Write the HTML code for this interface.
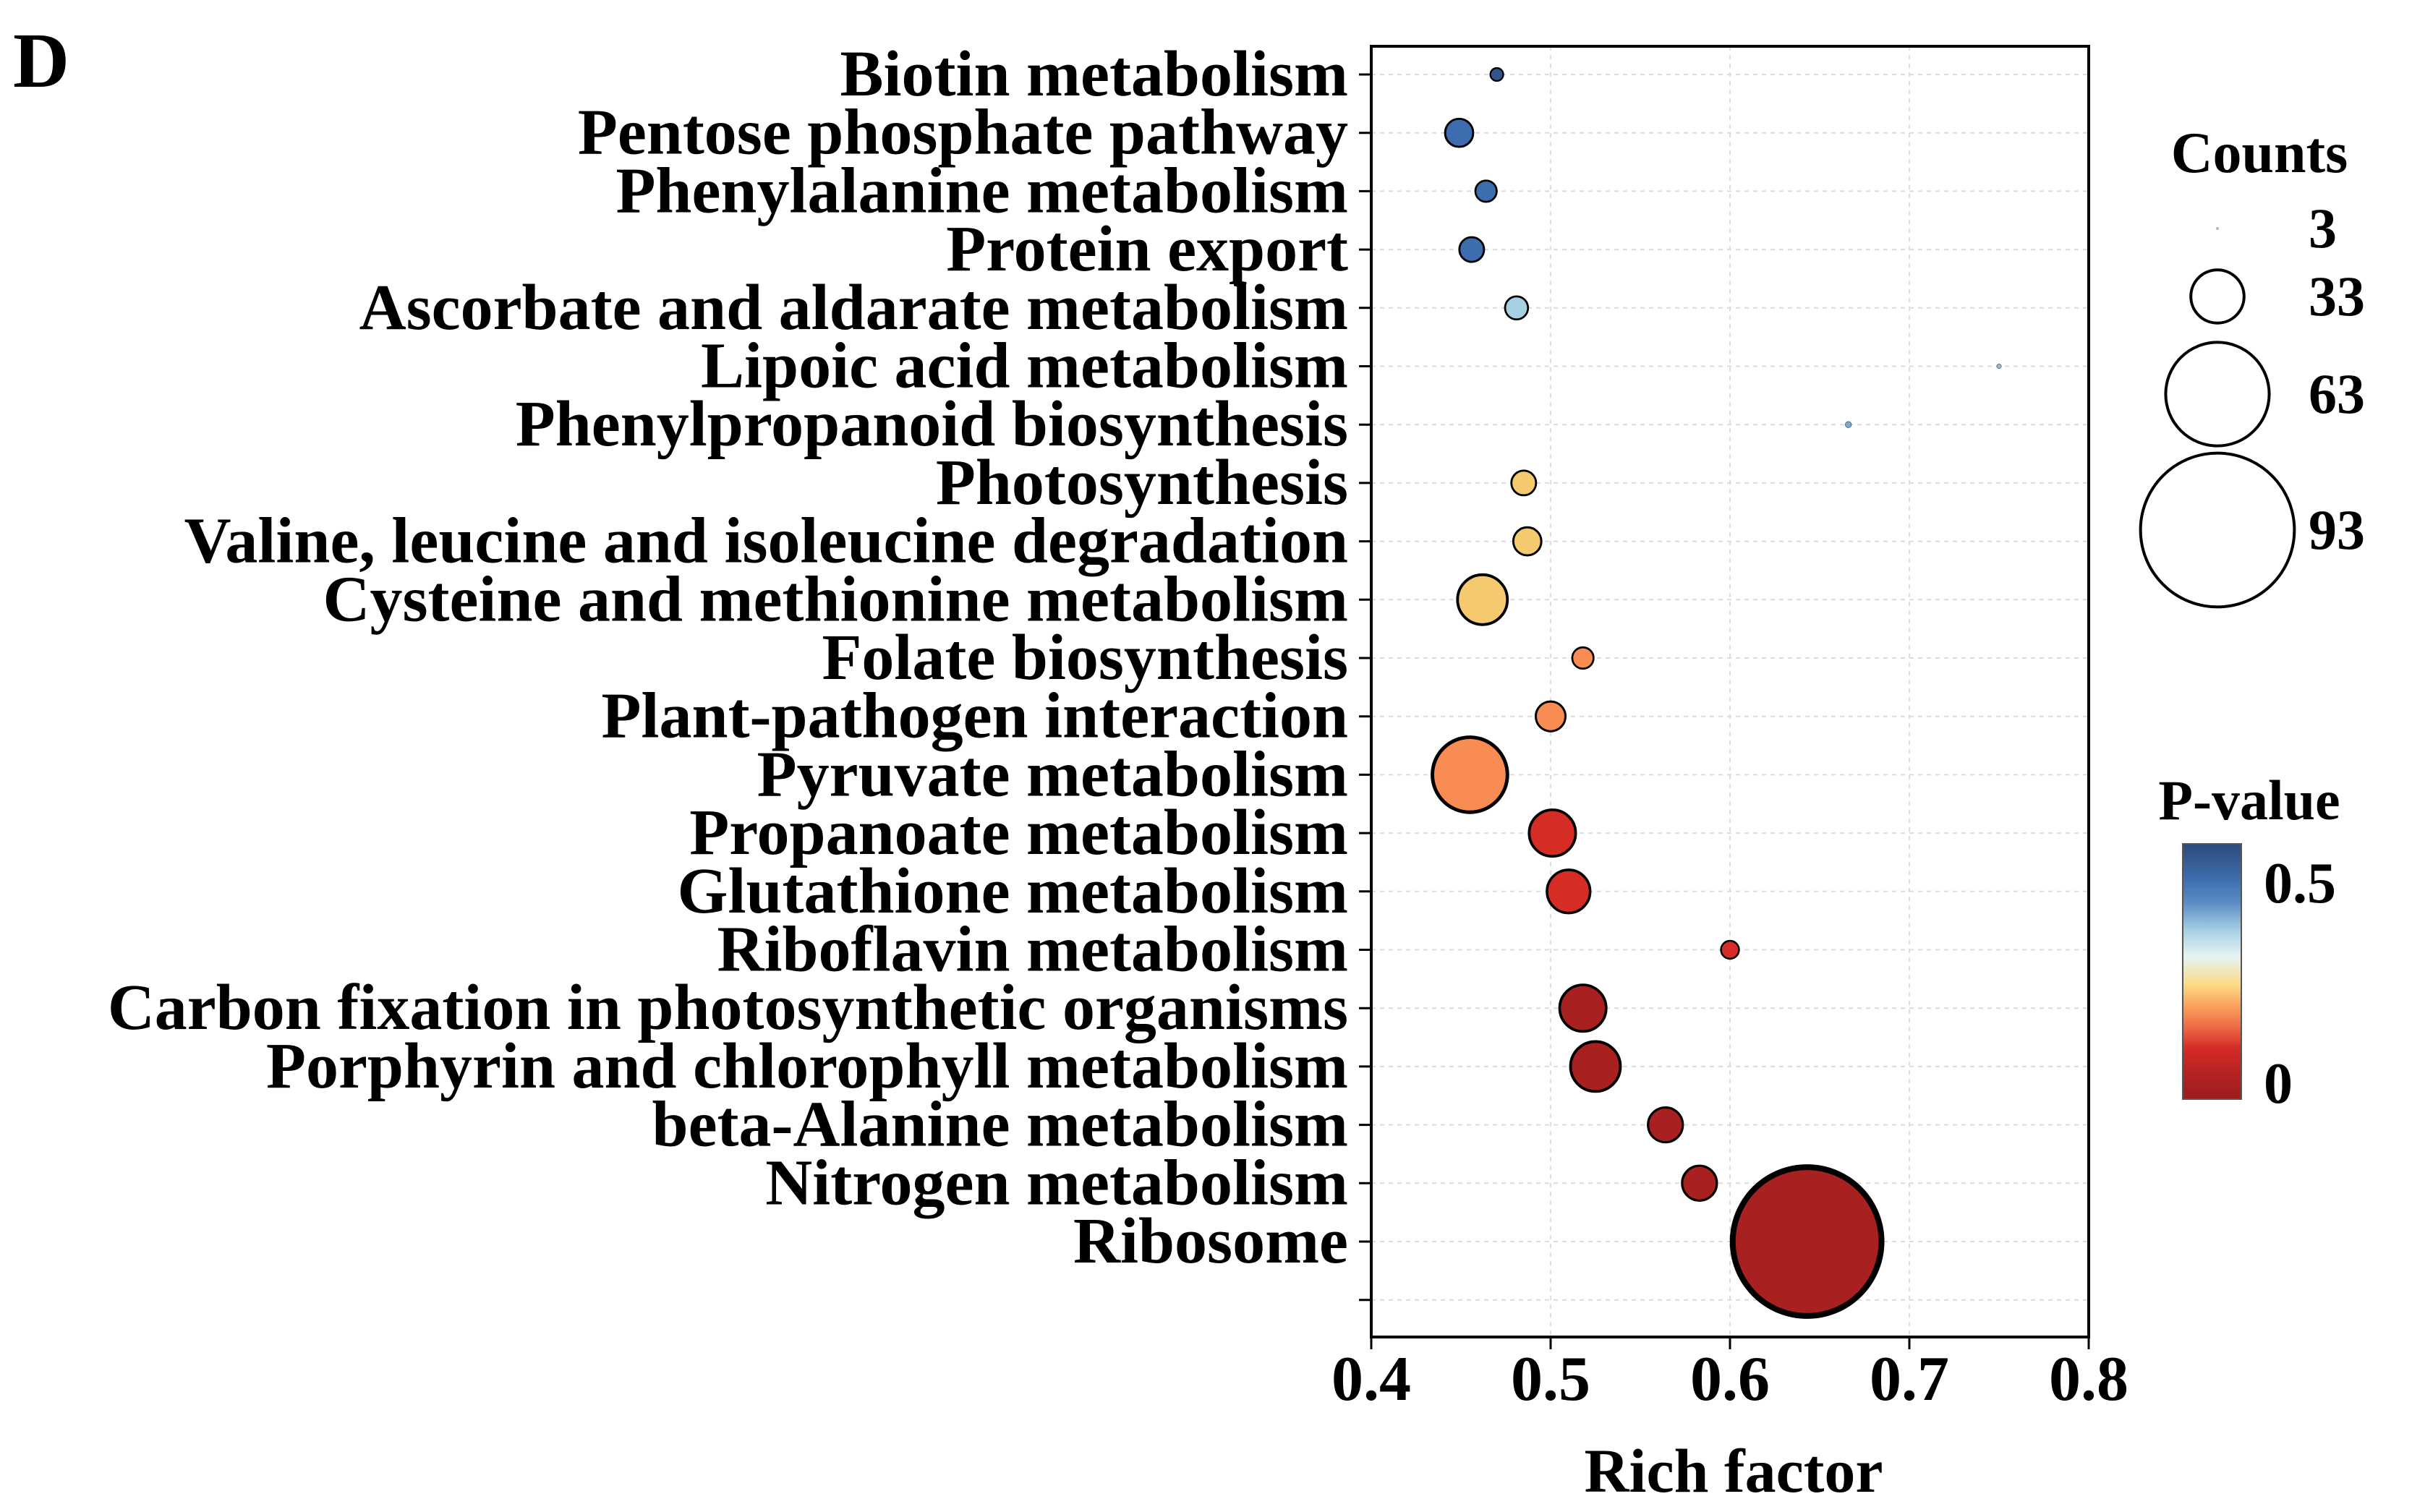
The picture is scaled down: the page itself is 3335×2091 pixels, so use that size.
<!DOCTYPE html>
<html><head><meta charset="utf-8"><style>
html,body{margin:0;padding:0;background:#fff}
svg{display:block}
text{font-family:"Liberation Serif",serif;font-weight:bold;fill:#000}
</style></head><body>
<svg id="chart" width="3335" height="2091" viewBox="0 0 3335 2091" xmlns="http://www.w3.org/2000/svg">
<defs>
<linearGradient id="cbar" x1="0" y1="1" x2="0" y2="0">
<stop offset="0" stop-color="#9b1d1d"/><stop offset="0.1" stop-color="#b52222"/><stop offset="0.2" stop-color="#d52c26"/><stop offset="0.29" stop-color="#ef7048"/><stop offset="0.37" stop-color="#fba45e"/><stop offset="0.45" stop-color="#fcdc88"/><stop offset="0.56" stop-color="#e4f3f3"/><stop offset="0.66" stop-color="#a7d0e4"/><stop offset="0.77" stop-color="#5b8cc4"/><stop offset="0.86" stop-color="#3e6daf"/><stop offset="1" stop-color="#2d4b7b"/>
</linearGradient>
</defs>
<text x="18" y="120" font-size="108">D</text>
<g id="grid"></g>
<g id="yaxis"></g>
<g id="xaxis"></g>
<g id="points"></g>
<rect x="1896" y="64" width="992" height="1785" fill="none" stroke="#000" stroke-width="4"/>
<text x="2397" y="2063" font-size="86" text-anchor="middle">Rich factor</text>
<g id="legend-size">
<text x="3124" y="238" font-size="80" text-anchor="middle">Counts</text>
</g>
<g id="legend-color">
<text x="3110" y="1133" font-size="78" text-anchor="middle">P-value</text>
<rect x="3018" y="1167" width="81" height="353" fill="url(#cbar)" stroke="#555" stroke-width="2"/>
</g>
</svg>
<script>
const categories = ["Biotin metabolism","Pentose phosphate pathway","Phenylalanine metabolism","Protein export","Ascorbate and aldarate metabolism","Lipoic acid metabolism","Phenylpropanoid biosynthesis","Photosynthesis","Valine, leucine and isoleucine degradation","Cysteine and methionine metabolism","Folate biosynthesis","Plant-pathogen interaction","Pyruvate metabolism","Propanoate metabolism","Glutathione metabolism","Riboflavin metabolism","Carbon fixation in photosynthetic organisms","Porphyrin and chlorophyll metabolism","beta-Alanine metabolism","Nitrogen metabolism","Ribosome"];
const richFactor = [0.470,0.449,0.464,0.456,0.481,0.750,0.666,0.485,0.487,0.462,0.518,0.500,0.455,0.501,0.510,0.600,0.518,0.525,0.564,0.583,0.643];
const counts = [9,18,14,16,15,4,5,16,18,31,14,19,46,29,27,12,29,31,22,22,90];
const pValues = [0.57,0.5,0.5,0.5,0.38,0.40,0.42,0.23,0.23,0.23,0.15,0.15,0.15,0.07,0.07,0.07,0.02,0.02,0.02,0.02,0.02];
const xTicks = [0.4,0.5,0.6,0.7,0.8];
const sizeLegendValues = [3,33,63,93];
const colorTicks = [0.5,0];

const NS="http://www.w3.org/2000/svg";
const X0=1896,X1=2888,Y0=64,Y1=1849;
const xs=v=>X0+(v-0.4)/(0.8-0.4)*(X1-X0);
const rowTop=103, rowStep=80.7;
const ys=i=>rowTop+i*rowStep;
const rs=n=>Math.max(2,1.16*n-1.5);
const pScale=p=>1497-(p-0)*(1497-1220)/0.5;
const stops=[[-0.04,[155,29,29]],[0.02,[168,32,32]],[0.07,[213,44,38]],[0.12,[236,100,69]],[0.15,[248,140,82]],[0.17,[251,164,94]],[0.23,[245,202,110]],[0.31,[228,243,243]],[0.38,[167,208,228]],[0.45,[91,140,196]],[0.5,[62,109,175]],[0.6,[45,75,123]]];
function pColor(p){
  for(let i=0;i<stops.length-1;i++){const a=stops[i],b=stops[i+1];
    if(p<=b[0]){const t=Math.max(0,(p-a[0])/(b[0]-a[0]));return 'rgb('+a[1].map((c,k)=>Math.round(c+(b[1][k]-c)*t)).join(',')+')';}}
  return 'rgb(45,75,123)';
}
function mk(tag,attrs,parent){const e=document.createElementNS(NS,tag);for(const k in attrs)e.setAttribute(k,attrs[k]);parent.appendChild(e);return e;}
const grid=document.getElementById('grid'),yaxis=document.getElementById('yaxis'),xaxis=document.getElementById('xaxis'),pts=document.getElementById('points');
for(let i=0;i<=categories.length;i++){
  const y=ys(i);
  const g=mk('line',{x1:X0,x2:X1,y1:y,y2:y,stroke:'#dcdcdc','stroke-width':2,'stroke-dasharray':'6 6'},grid);
  
  
  const t=mk('line',{x1:X0-17,x2:X0,y1:y,y2:y,stroke:'#000','stroke-width':3},yaxis);
  
  
  if(i<categories.length){
    const lb=mk('text',{x:X0-32,y:y+29,'font-size':90,'text-anchor':'end'},yaxis);
    lb.textContent=categories[i];
    
    
  }
}
xTicks.forEach(v=>{
  const x=xs(v);
  const g=mk('line',{x1:x,x2:x,y1:Y0,y2:Y1,stroke:'#dcdcdc','stroke-width':2,'stroke-dasharray':'6 6'},grid);
  
  
  const t=mk('line',{x1:x,x2:x,y1:Y1,y2:Y1+17,stroke:'#000','stroke-width':3},xaxis);
  
  
  const lb=mk('text',{x:x,y:1936,'font-size':88,'text-anchor':'middle'},xaxis);
  lb.textContent=v.toFixed(1);
  
  
});
categories.forEach((c,i)=>{
  const r=rs(counts[i]);
  const cir=mk('circle',{cx:xs(richFactor[i]),cy:ys(i),r:r,fill:pColor(pValues[i]),stroke:'#000','stroke-width':(r<6?0.5:1.8+r*0.06)},pts);
  
  
});
const sl=document.getElementById('legend-size');
const legY=[316,410,545,733];
sizeLegendValues.forEach((n,i)=>{
  const r=rs(n);
  const c=mk('circle',{cx:3066,cy:legY[i],r:r,fill:(n<5?'#bbb':'none'),stroke:(n<5?'#bbb':'#000'),'stroke-width':(n<5?0.5:4)},sl);
  
  
  const t=mk('text',{x:3192,y:legY[i]+26,'font-size':78},sl);
  t.textContent=n;
  
  
});
const cl=document.getElementById('legend-color');
colorTicks.forEach(p=>{
  const t=mk('text',{x:3130,y:pScale(p)+28,'font-size':80},cl);
  t.textContent=String(p);
  
  
});
</script>
</body></html>
